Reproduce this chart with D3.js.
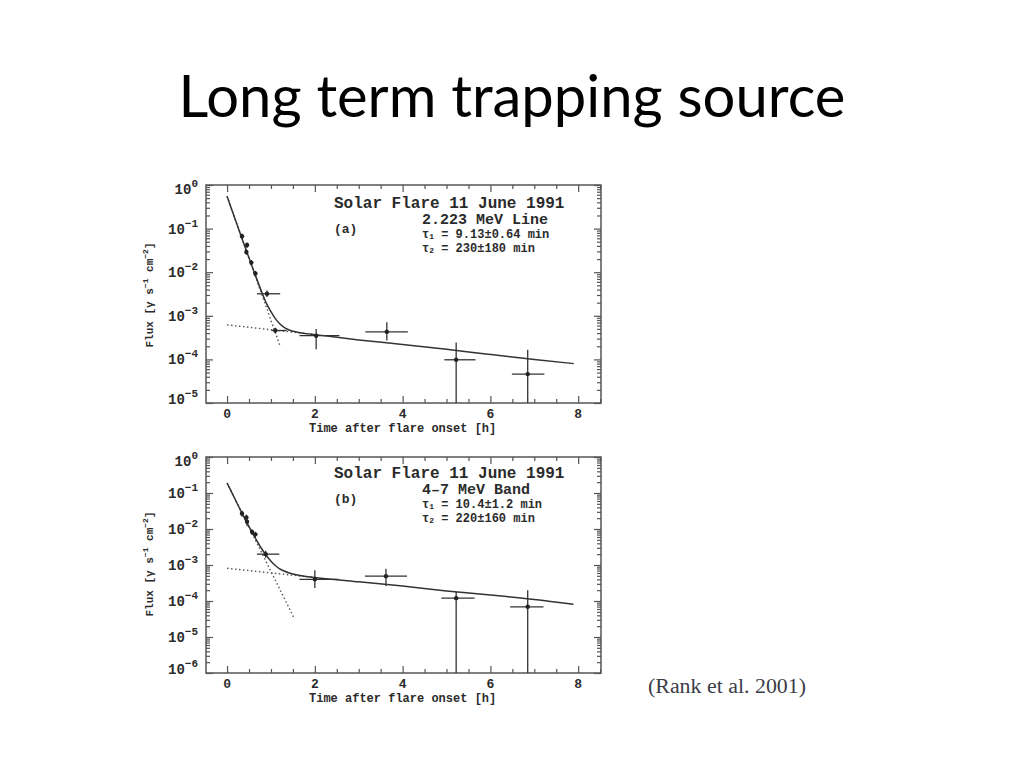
<!DOCTYPE html>
<html>
<head>
<meta charset="utf-8">
<script src="https://cdn.jsdelivr.net/npm/d3@7"></script>
<style>
  html, body { margin: 0; padding: 0; background: #ffffff; }
  svg { display: block; }
</style>
</head>
<body>
<svg id="chart" width="1024" height="768"></svg>
<script>
// ---------------- DATA ----------------
const slideTitle = "Long term trapping source";
const citation = "(Rank et al. 2001)";
const xTickValues = [0, 2, 4, 6, 8];
const xAxisTitle = "Time after flare onset [h]";

// Panel (a): 2.223 MeV line
const aLabels = ["Solar Flare 11 June 1991", "2.223 MeV Line", "(a)"];
const aTau1 = ["1", " = 9.13\u00b10.64 min"];
const aTau2 = ["2", " = 230\u00b1180 min"];
const aYExponents = [0, -1, -2, -3, -4, -5];
const aTime    = [0.34, 0.44, 0.455, 0.553, 0.645, 0.91, 1.10, 2.03, 3.64, 5.22, 6.85];
const aTimeLo  = [0.31, 0.41, 0.425, 0.52, 0.615, 0.68, 1.01, 1.65, 3.15, 4.95, 6.49];
const aTimeHi  = [0.37, 0.47, 0.485, 0.585, 0.675, 1.21, 1.36, 2.56, 4.12, 5.66, 7.23];
const aFlux    = [0.067, 0.029, 0.042, 0.0166, 0.0093, 0.0032, 0.00046, 0.00035, 0.00043, 0.000098, 0.000046];
const aFluxLo  = [0.058, 0.025, 0.036, 0.014, 0.0080, 0.0027, 0.00040, 0.00017, 0.00027, 1e-9, 1e-9];
const aFluxHi  = [0.077, 0.033, 0.048, 0.019, 0.0107, 0.0038, 0.00053, 0.00050, 0.00071, 0.000245, 0.000166];
const aFitTime = [0, 0.2, 0.4, 0.6, 0.8, 0.9, 1.0, 1.1, 1.2, 1.3, 1.4, 1.6, 1.8, 2.0, 3.0, 4.0, 5.0, 6.0, 7.0, 7.9];
const aFitFlux = [0.55, 0.148, 0.040, 0.0113, 0.0033, 0.0019, 0.00124, 0.00086, 0.00066, 0.00054, 0.00048, 0.00042, 0.00039, 0.00037, 0.00028, 0.00022, 0.00017, 0.00013, 0.0001, 0.00008];
const aFastTime = [0, 1.21];
const aFastFlux = [0.55, 0.0002];
const aSlowTime = [0, 2.0];
const aSlowFlux = [0.00062, 0.00037];

// Panel (b): 4-7 MeV band
const bLabels = ["Solar Flare 11 June 1991", "4\u20137 MeV Band", "(b)"];
const bTau1 = ["1", " = 10.4\u00b11.2 min"];
const bTau2 = ["2", " = 220\u00b1160 min"];
const bYExponents = [0, -1, -2, -3, -4, -5, -6];
const bTime    = [0.34, 0.44, 0.455, 0.57, 0.645, 0.88, 2.0, 3.62, 5.22, 6.85];
const bTimeLo  = [0.31, 0.41, 0.42, 0.54, 0.61, 0.68, 1.65, 3.14, 4.88, 6.45];
const bTimeHi  = [0.37, 0.47, 0.49, 0.60, 0.68, 1.19, 2.54, 4.10, 5.64, 7.21];
const bFlux    = [0.027, 0.021, 0.016, 0.0083, 0.0071, 0.0020, 0.00040, 0.00049, 0.00012, 0.000069];
const bFluxLo  = [0.022, 0.017, 0.012, 0.0068, 0.0058, 0.0016, 0.00023, 0.00026, 1e-9, 1e-9];
const bFluxHi  = [0.032, 0.025, 0.020, 0.0098, 0.0084, 0.0025, 0.00071, 0.00079, 0.000178, 0.0002];
const bFitTime = [0, 0.2, 0.4, 0.6, 0.8, 0.9, 1.0, 1.1, 1.2, 1.3, 1.4, 1.6, 1.8, 2.0, 3.0, 4.0, 5.0, 6.0, 7.0, 7.89];
const bFitFlux = [0.19, 0.061, 0.0198, 0.0070, 0.0027, 0.0018, 0.00128, 0.00097, 0.00078, 0.00068, 0.00061, 0.00053, 0.00048, 0.00045, 0.00034, 0.00026, 0.00019, 0.000146, 0.00011, 0.000081];
const bFastTime = [0, 1.53];
const bFastFlux = [0.19, 0.000033];
const bSlowTime = [0, 2.0];
const bSlowFlux = [0.00081, 0.00045];

// ---------------- DRAWING ----------------
const svg = d3.select("#chart");
const plotFont = "'Liberation Mono', 'DejaVu Sans Mono', monospace";
const ink = "#2b2b2b";

// Slide title, fitted to the reference width
const title = svg.append("text")
  .attr("x", 512).attr("y", 117)
  .attr("text-anchor", "middle")
  .attr("font-family", "Lato, 'Open Sans', sans-serif")
  .attr("font-size", 56)
  .attr("fill", "#000")
  .text(slideTitle);
{
  const w = title.node().getComputedTextLength();
  title.attr("font-size", 56 * 667 / w);
}

svg.append("text")
  .attr("x", 648).attr("y", 693)
  .attr("font-family", "'Liberation Serif', 'DejaVu Serif', serif")
  .attr("font-size", 20)
  .attr("fill", "#3c3c48")
  .attr("textLength", 158).attr("lengthAdjust", "spacingAndGlyphs")
  .text(citation);

function drawPanel(cfg) {
  const g = svg.append("g");
  const x = d3.scaleLinear().domain([-0.48, 8.52]).range([cfg.left, cfg.right]);
  const y = d3.scaleLog().domain([cfg.yMin, 1]).range([cfg.bottom, cfg.top]).clamp(true);

  // Frame
  g.append("rect")
    .attr("x", cfg.left).attr("y", cfg.top)
    .attr("width", cfg.right - cfg.left).attr("height", cfg.bottom - cfg.top)
    .attr("fill", "none").attr("stroke", "#555").attr("stroke-width", 1.5);

  // Inward ticks using d3 axes
  const xMinor = d3.range(0, 8.51, 0.5).filter(v => v % 2 !== 0);
  const tickStyle = sel => { sel.select(".domain").remove(); sel.selectAll("line").attr("stroke", "#555").attr("stroke-width", 1.2); sel.selectAll("text").remove(); };
  g.append("g").attr("transform", `translate(0,${cfg.bottom})`)
    .call(d3.axisTop(x).tickValues(xTickValues).tickSize(7)).call(tickStyle);
  g.append("g").attr("transform", `translate(0,${cfg.bottom})`)
    .call(d3.axisTop(x).tickValues(xMinor).tickSize(4)).call(tickStyle);
  g.append("g").attr("transform", `translate(0,${cfg.top})`)
    .call(d3.axisBottom(x).tickValues(xTickValues).tickSize(7)).call(tickStyle);
  g.append("g").attr("transform", `translate(0,${cfg.top})`)
    .call(d3.axisBottom(x).tickValues(xMinor).tickSize(4)).call(tickStyle);

  const decades = cfg.exps.map(e => Math.pow(10, e));
  const minors = [];
  cfg.exps.slice(1).forEach(e => { for (let k = 2; k <= 9; k++) minors.push(k * Math.pow(10, e)); });
  g.append("g").attr("transform", `translate(${cfg.left},0)`)
    .call(d3.axisRight(y).tickValues(decades).tickSize(7)).call(tickStyle);
  g.append("g").attr("transform", `translate(${cfg.left},0)`)
    .call(d3.axisRight(y).tickValues(minors).tickSize(4)).call(tickStyle);
  g.append("g").attr("transform", `translate(${cfg.right},0)`)
    .call(d3.axisLeft(y).tickValues(decades).tickSize(7)).call(tickStyle);
  g.append("g").attr("transform", `translate(${cfg.right},0)`)
    .call(d3.axisLeft(y).tickValues(minors).tickSize(4)).call(tickStyle);

  // X tick labels
  g.selectAll(".xl").data(xTickValues).enter().append("text")
    .attr("x", d => x(d)).attr("y", cfg.bottom + 15)
    .attr("text-anchor", "middle")
    .attr("font-family", plotFont).attr("font-size", 13).attr("font-weight", "bold")
    .attr("fill", ink).text(d => d);

  // Y tick labels 10^n
  const yl = g.selectAll(".yl").data(cfg.exps).enter().append("text")
    .attr("x", cfg.left - 8)
    .attr("y", (d, i) => y(Math.pow(10, d)) + 5 + (i === 0 ? 4 : 0) + (i === cfg.exps.length - 1 ? -4 : 0))
    .attr("text-anchor", "end")
    .attr("font-family", plotFont).attr("font-weight", "bold").attr("fill", ink);
  yl.append("tspan").attr("font-size", 14).text("10");
  yl.append("tspan").attr("font-size", 11).attr("dy", -7)
    .text(d => d === 0 ? "0" : "\u2212" + Math.abs(d));

  // Axis titles
  g.append("text")
    .attr("x", x(4)).attr("y", cfg.bottom + 29)
    .attr("text-anchor", "middle")
    .attr("font-family", plotFont).attr("font-size", 12).attr("font-weight", "bold")
    .attr("fill", ink).text(xAxisTitle);

  const yt = g.append("text")
    .attr("transform", `translate(${cfg.left - 53},${cfg.yTitleY}) rotate(-90)`)
    .attr("text-anchor", "middle")
    .attr("font-family", plotFont).attr("font-size", 11).attr("font-weight", "bold")
    .attr("fill", ink);
  yt.append("tspan").text("Flux [\u03b3 s");
  yt.append("tspan").attr("font-size", 8).attr("dy", -5).text("\u22121");
  yt.append("tspan").attr("dy", 5).text(" cm");
  yt.append("tspan").attr("font-size", 8).attr("dy", -5).text("\u22122");
  yt.append("tspan").attr("dy", 5).text("]");

  // Annotations
  const ann = (txt, xx, yy, size) => g.append("text")
    .attr("x", xx).attr("y", yy)
    .attr("dominant-baseline", "middle")
    .attr("font-family", plotFont).attr("font-size", size).attr("font-weight", "bold")
    .attr("fill", ink).text(txt);
  ann(cfg.labels[0], 334, cfg.top + cfg.ann[0], 16);
  ann(cfg.labels[1], 422, cfg.top + cfg.ann[1], 15);
  ann(cfg.labels[2], 334, cfg.top + cfg.ann[2], 13);
  [[cfg.tau1, cfg.ann[3]], [cfg.tau2, cfg.ann[4]]].forEach(([parts, off]) => {
    const t = g.append("text").attr("x", 422).attr("y", cfg.top + off)
      .attr("dominant-baseline", "middle")
      .attr("font-family", plotFont).attr("font-size", 12).attr("font-weight", "bold").attr("fill", ink);
    t.append("tspan").text("\u03c4");
    t.append("tspan").attr("font-size", 8).attr("dy", 2).text(parts[0]);
    t.append("tspan").attr("dy", -2).text(parts[1]);
  });

  // Fit curves
  const line = d3.line().x(d => x(d[0])).y(d => y(d[1])).curve(d3.curveMonotoneX);
  const zip = (a, b) => a.map((v, i) => [v, b[i]]);
  g.append("path").datum(zip(cfg.fastT, cfg.fastF)).attr("d", line)
    .attr("fill", "none").attr("stroke", "#555").attr("stroke-width", 1.4).attr("stroke-dasharray", "1.5,2.5");
  g.append("path").datum(zip(cfg.slowT, cfg.slowF)).attr("d", line)
    .attr("fill", "none").attr("stroke", "#555").attr("stroke-width", 1.4).attr("stroke-dasharray", "1.5,2.5");
  g.append("path").datum(zip(cfg.fitT, cfg.fitF)).attr("d", line)
    .attr("fill", "none").attr("stroke", "#333").attr("stroke-width", 1.5);

  // Data points with error bars
  const pts = cfg.t.map((t, i) => ({ t, f: cfg.f[i], tlo: cfg.tlo[i], thi: cfg.thi[i], flo: cfg.flo[i], fhi: cfg.fhi[i] }));
  const pg = g.selectAll(".pt").data(pts).enter().append("g");
  pg.append("line").attr("x1", d => x(d.tlo)).attr("x2", d => x(d.thi))
    .attr("y1", d => y(d.f)).attr("y2", d => y(d.f))
    .attr("stroke", "#333").attr("stroke-width", 1.3);
  pg.append("line").attr("x1", d => x(d.t)).attr("x2", d => x(d.t))
    .attr("y1", d => y(d.flo)).attr("y2", d => y(d.fhi))
    .attr("stroke", "#333").attr("stroke-width", 1.3);
  pg.append("circle").attr("cx", d => x(d.t)).attr("cy", d => y(d.f)).attr("r", 2.2)
    .attr("fill", "#222");
}

drawPanel({
  left: 206, right: 601, top: 185, bottom: 403, yMin: 1e-5, exps: aYExponents,
  yTitleY: 295, labels: aLabels, tau1: aTau1, tau2: aTau2, ann: [18.3, 35, 45, 49.5, 63.5],
  t: aTime, tlo: aTimeLo, thi: aTimeHi, f: aFlux, flo: aFluxLo, fhi: aFluxHi,
  fitT: aFitTime, fitF: aFitFlux, fastT: aFastTime, fastF: aFastFlux, slowT: aSlowTime, slowF: aSlowFlux
});
drawPanel({
  left: 206, right: 601, top: 457, bottom: 673, yMin: 1e-6, exps: bYExponents,
  yTitleY: 564, labels: bLabels, tau1: bTau1, tau2: bTau2, ann: [16.3, 33, 43, 48, 62],
  t: bTime, tlo: bTimeLo, thi: bTimeHi, f: bFlux, flo: bFluxLo, fhi: bFluxHi,
  fitT: bFitTime, fitF: bFitFlux, fastT: bFastTime, fastF: bFastFlux, slowT: bSlowTime, slowF: bSlowFlux
});
</script>
</body>
</html>
